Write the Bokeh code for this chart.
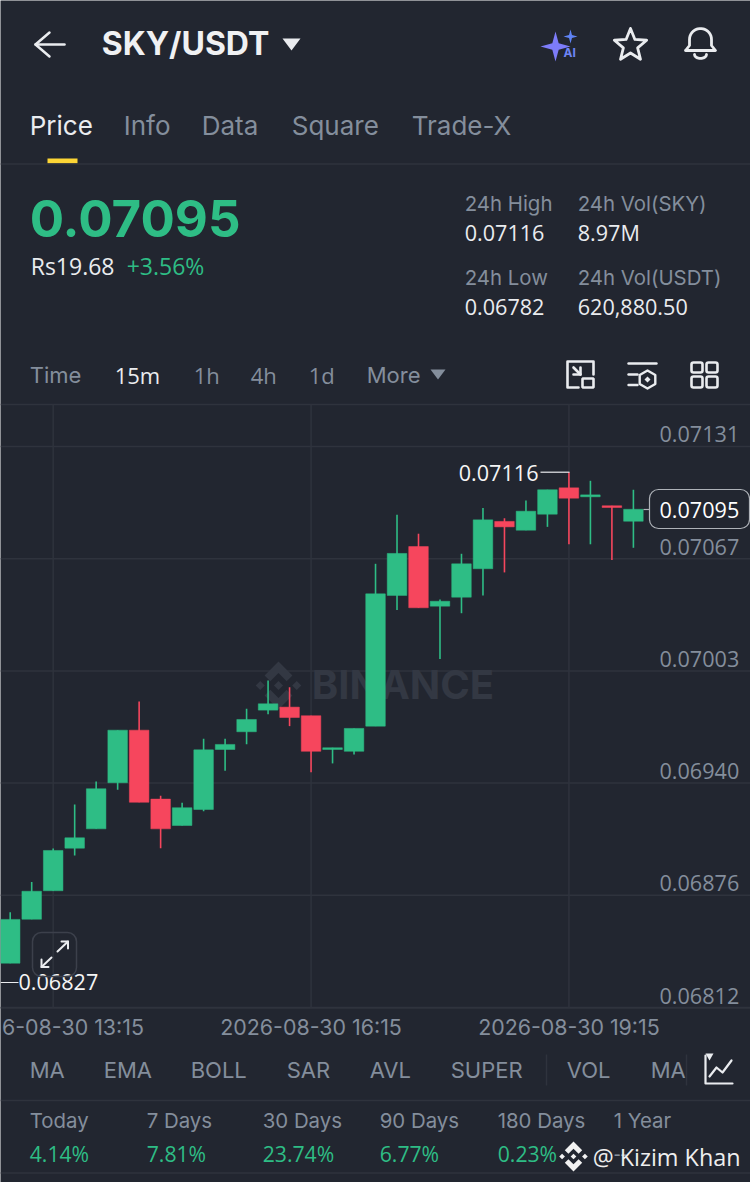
import numpy as np
from bokeh.plotting import figure
from bokeh.models import Range1d, ColumnDataSource
from bokeh.core.properties import value
from bokeh.embed import file_html
from bokeh.resources import INLINE

# ---- chart data ----
opens = [0.068372,0.068622,0.068784,0.069026,0.069136,0.069398,0.069697,0.069305,0.069155,0.069246,
         0.069587,0.069688,0.069811,0.069828,0.069779,0.069587,0.069577,0.069720,0.070463,0.070741,
         0.070402,0.070453,0.070615,0.070884,0.070834,0.070925,0.071075,0.071024,0.070973,0.070885]
closes = [0.068621,0.068781,0.069013,0.069085,0.069364,0.069697,0.069287,0.069136,0.069256,0.069585,
          0.069616,0.069758,0.069847,0.069769,0.069577,0.069597,0.069707,0.070472,0.070702,0.070393,
          0.070430,0.070643,0.070893,0.070853,0.070942,0.071064,0.071016,0.071035,0.070963,0.070953]
highs = [0.068662,0.068833,0.069024,0.069274,0.069405,0.069697,0.069860,0.069324,0.069284,0.069648,
         0.069648,0.069819,0.069980,0.069941,0.069779,0.069597,0.069707,0.070643,0.070922,0.070814,
         0.070440,0.070700,0.070961,0.070902,0.071003,0.071064,0.071164,0.071115,0.070973,0.071064]
lows = [0.068372,0.068622,0.068784,0.068984,0.069136,0.069358,0.069287,0.069026,0.069155,0.069236,
        0.069466,0.069617,0.069788,0.069720,0.069458,0.069508,0.069559,0.069720,0.070381,0.070393,
        0.070101,0.070362,0.070463,0.070594,0.070834,0.070853,0.070754,0.070754,0.070664,0.070734]
price_ticks = [0.07131, 0.070672, 0.070034, 0.069396, 0.068758, 0.06812]
time_slots = [2, 14, 26]
time_labels = ["2026-08-30 13:15", "2026-08-30 16:15", "2026-08-30 19:15"]
high_price, low_price, last_price = 0.07116, 0.06827, 0.07095

tabs = ["Price", "Info", "Data", "Square", "Trade-X"]
intervals = ["Time", "15m", "1h", "4h", "1d", "More"]
indicators = ["MA", "EMA", "BOLL", "SAR", "AVL", "SUPER", "VOL", "MA"]
periods = ["Today", "7 Days", "30 Days", "90 Days", "180 Days", "1 Year"]
changes = ["4.14%", "7.81%", "23.74%", "6.77%", "0.23%", "--"]

# ---- style ----
BG = "#222630"; GRID = "#2f333d"; MUTED = "#848e9c"; WHITE = "#eaecef"
UP = "#2ebd85"; DOWN = "#f6465d"; FONT = "Inter"; NUM = "Open Sans"

p = figure(width=750, height=1182, output_backend="svg", toolbar_location=None,
           x_range=Range1d(0, 750), y_range=Range1d(1182, 0),
           x_axis_location=None, y_axis_location=None, min_border=0,
           background_fill_color=BG, border_fill_color=BG, outline_line_color=None)
p.grid.visible = False
p.styles = {"position": "absolute", "left": "0", "top": "0"}
p.extra_y_ranges["price"] = Range1d(0.067125, 0.073846)
p.extra_x_ranges["slot"] = Range1d(-0.4514, 34.449)


def t(x, y, s, size, color=WHITE, align="left", style="normal", font=FONT):
    p.text([x - 0.8], [y - 1], text=[s], text_font=value(font), text_font_size=f"{size}px",
           text_color=color, text_align=align, text_baseline="middle", text_font_style=style)


def ln(xs, ys, color=WHITE, w=2.5):
    p.line(xs, ys, line_color=color, line_width=w, line_cap="round", line_join="round")


def star4(cx, cy, r, color):
    a = np.arange(8) * np.pi / 4
    rad = np.where(np.arange(8) % 2 == 0, r, r * 0.3)
    p.patch(cx + rad * np.sin(a), cy - rad * np.cos(a), fill_color=color, line_color=None)


def logo(cx, cy, r, color):
    d = 0.19
    shapes = [([0, .58, .34, 0, -.34, -.58], [-1, -.42, -.18, -.52, -.18, -.42]),
              ([0, .58, .34, 0, -.34, -.58], [1, .42, .18, .52, .18, .42]),
              ([0, d, 0, -d], [-d, 0, d, 0]),
              ([.76, .76 + d, .76, .76 - d], [-d, 0, d, 0]),
              ([-.76, -.76 + d, -.76, -.76 - d], [-d, 0, d, 0])]
    for xs, ys in shapes:
        p.patch(cx + r * np.array(xs), cy + r * np.array(ys), fill_color=color, line_color=None)


# ---- header ----
ln([64, 35], [44, 44]); ln([49, 35, 49], [32, 44, 56])
t(102, 44, "SKY/USDT", 32, "#f0f1f3", style="bold")
p.patch([282, 300, 291], [38, 38, 50], fill_color="#eaecef", line_color=None)
star4(555, 46, 15, "#7d7cf9"); star4(570, 36, 7, "#5f83f5")
t(570, 53, "AI", 12, "#6e85f6", align="center", style="bold")
a = -np.pi / 2 + np.arange(11) * np.pi / 5
r = np.where(np.arange(11) % 2 == 0, 17, 7.5)
ln(630 + r * np.cos(a), 45 + r * np.sin(a), "#eaecef", 2.8)
th = np.linspace(np.pi, 0, 20)
bx = np.concatenate([[685, 689], 700 + 11 * np.cos(th), [711, 715, 685]])
by = np.concatenate([[50, 45], 39 + 11 * np.sin(-th), [45, 50, 50]])
ln(bx, by, "#eaecef", 2.8)
th = np.linspace(0, np.pi, 10)
ln(700 + 6 * np.cos(th), 54 + 4 * np.sin(th), "#eaecef", 2.8)

# ---- tabs ----
for x, s, c in zip([30, 124, 202, 292, 412], tabs, [WHITE] + [MUTED] * 4):
    t(x, 126, s, 26, c)
p.quad(left=[47], right=[77], top=[158], bottom=[163], fill_color="#fcd535", line_color=None)
p.segment([0], [163.5], [750], [163.5], line_color=GRID, line_width=1.5)

# ---- quote panel ----
t(30, 219, "0.07095", 51, UP, style="bold")
t(31, 266, "Rs19.68", 23, WHITE, font=NUM); t(127, 266, "+3.56%", 23, UP, font=NUM)
t(465, 204, "24h High", 20.4, MUTED); t(465, 233, "0.07116", 21.6, WHITE, font=NUM)
t(578, 204, "24h Vol(SKY)", 20.4, MUTED); t(578, 233, "8.97M", 21.6, WHITE, font=NUM)
t(465, 278, "24h Low", 20.4, MUTED); t(465, 307, "0.06782", 21.6, WHITE, font=NUM)
t(578, 278, "24h Vol(USDT)", 20.4, MUTED); t(578, 307, "620,880.50", 21.6, WHITE, font=NUM)

# ---- interval row ----
for x, s, c, f in zip([30, 115, 194, 251, 309, 367], intervals, [MUTED, WHITE] + [MUTED] * 4,
                      [FONT, NUM, NUM, NUM, NUM, FONT]):
    t(x, 375, s, 22, c, font=f)
p.patch([430, 445, 437.5], [369, 369, 379], fill_color=MUTED, line_color=None)
ln([593, 593, 567, 567, 578], [374, 361, 361, 387, 387], "#eaecef", 2.6)
p.quad(left=[582], right=[593], top=[378], bottom=[387], fill_color=None, line_color="#eaecef", line_width=2.6)
ln([573, 580], [367, 374], "#eaecef", 2.6); ln([573, 580, 580], [374, 374, 367], "#eaecef", 2.6)
ln([628, 656], [363, 363], "#eaecef", 2.4); ln([628, 637], [374, 374], "#eaecef", 2.4); ln([628, 637], [384.5, 384.5], "#eaecef", 2.4)
a = np.arange(7) * np.pi / 3
ln(647 + 9 * np.sin(a), 379 + 9 * np.cos(a), "#eaecef", 2.4)
p.patch([647, 650, 647, 644], [376, 379, 382, 379], fill_color="#eaecef", line_color=None)
p.quad(left=[691, 706, 691, 706], right=[702, 717, 702, 717], top=[362, 362, 376, 376], bottom=[372, 372, 387, 387],
       fill_color=None, line_color="#eaecef", line_width=2.6, border_radius=2)

# ---- grid ----
p.segment([0], [404], [750], [404], line_color=GRID, line_width=1.5)
p.segment([0], [1007.5], [750], [1007.5], line_color=GRID, line_width=1.5)
p.segment([0] * 6, price_ticks, [750] * 6, price_ticks, y_range_name="price", line_color=GRID, line_width=1.5)
for slot in time_slots:
    p.segment([slot], [404], [slot], [1007], x_range_name="slot", line_color=GRID, line_width=1.5)

# ---- watermark ----
logo(278, 685, 24, "#333843")
t(312, 685, "BINANCE", 40, "#333843", style="bold")

# ---- candles ----
slots = list(range(len(opens)))
colors = [UP if c >= o else DOWN for o, c in zip(opens, closes)]
src = ColumnDataSource(dict(x=slots, o=opens, c=closes, h=highs, l=lows, color=colors))
p.segment("x", "h", "x", "l", source=src, x_range_name="slot", y_range_name="price", line_color="color", line_width=1.6)
p.vbar(x="x", top="o", bottom="c", width=0.91, source=src, x_range_name="slot", y_range_name="price",
       fill_color="color", line_color="color", line_width=0.5)

# ---- price scale labels ----
for v in price_ticks:
    p.text([659], [v], text=[f"{v:.5f}"], y_range_name="price", text_font=value(NUM), text_font_size="21.6px",
           text_color=MUTED, text_align="left", text_baseline="middle", y_offset=-12)

# ---- time labels ----
for slot, s in zip(time_slots, time_labels):
    p.text([slot], [1026.5], text=[s], x_range_name="slot", text_font=value(FONT), text_font_size="21.4px",
           text_color=MUTED, text_align="center", text_baseline="middle")

# ---- markers for high, low, last ----
p.segment([540], [471.7], [569], [471.7], line_color="#eaecef", line_width=1.2)
p.text([538], [high_price], text=[f"{high_price:.5f}"], y_range_name="price", text_font=value(NUM), text_font_size="21.6px",
       text_color="#f5f5f5", text_align="right", text_baseline="middle")
p.segment([0], [982], [18], [982], line_color="#eaecef", line_width=1.2)
p.text([18], [low_price], text=[f"{low_price:.5f}"], y_range_name="price", text_font=value(NUM), text_font_size="21.6px",
       text_color="#f5f5f5", text_align="left", text_baseline="middle", y_offset=1)
p.segment([643], [509], [649], [509], line_color="#aeb2b8", line_width=1.2)
p.quad(left=[649], right=[749], top=[489], bottom=[528], fill_color=BG, line_color="#aeb2b8", line_width=1.2, border_radius=9)
p.text([659], [last_price], text=[f"{last_price:.5f}"], y_range_name="price", text_font=value(NUM), text_font_size="21.6px",
       text_color="#ffffff", text_align="left", text_baseline="middle")

# ---- expand button ----
p.quad(left=[32], right=[76], top=[932], bottom=[976], fill_color=None, line_color="#3c404b", line_width=1.5, border_radius=9)
ln([57, 67.5], [951, 941], "#eaecef", 2); ln([61, 67.5, 67.5], [941, 941, 948], "#eaecef", 2)
ln([51, 41], [957, 966.5], "#eaecef", 2); ln([41, 41, 48], [959, 966.5, 966.5], "#eaecef", 2)

# ---- indicator row ----
for x, s in zip([30, 104, 191, 287, 370, 451, 567, 651], indicators):
    t(x, 1070.5, s, 22, MUTED)
p.quad(left=[686], right=[700], top=[1050], bottom=[1090], fill_color=BG, line_color=None)
p.segment([546, 686], [1054, 1054], [546, 686], [1085, 1085], line_color=GRID, line_width=1.5)
ln([705, 705, 732], [1055, 1083, 1083], "#eaecef", 2.2)
ln([709, 716, 722, 731], [1076, 1067, 1072, 1060], "#eaecef", 2.2)
p.patch([705, 713, 709], [1053, 1053, 1060], fill_color="#eaecef", line_color=None)
p.segment([0], [1100], [750], [1100], line_color=GRID, line_width=1.5)

# ---- period changes ----
for x, s, c in zip([30, 147, 263, 380, 498, 614], periods, changes):
    t(x, 1120.5, s, 20.4, MUTED)
    t(x, 1153.5, c, 21.2, MUTED if c == "--" else UP, font=NUM)
p.segment([0], [1172.5], [750], [1172.5], line_color=GRID, line_width=1.5)

# ---- credit ----
logo(573, 1156, 15, "#f2f2f2")
t(593, 1157, "@ Kizim Khan", 23.4, "#eeeeee", font=NUM)

open("out.html", "w").write(file_html(p, INLINE))
